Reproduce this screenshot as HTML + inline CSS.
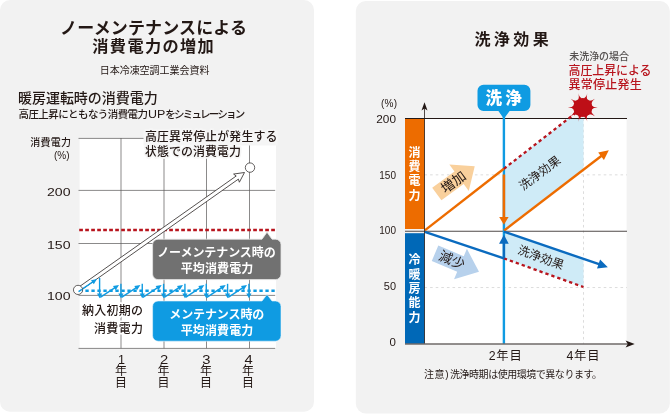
<!DOCTYPE html>
<html lang="ja"><head><meta charset="utf-8"><title>洗浄効果</title>
<style>
html,body{margin:0;padding:0;background:#fff;}
body{width:670px;height:414px;overflow:hidden;font-family:'Liberation Sans', 'Noto Sans CJK JP', sans-serif;}
svg{display:block;will-change:transform;}
svg text{font-family:'Liberation Sans', 'Noto Sans CJK JP', sans-serif;}
</style></head><body>
<svg width="670" height="414" viewBox="0 0 670 414">
<rect x="0" y="0" width="314" height="411.8" rx="10" fill="#f2f2f2"/>
<rect x="355.8" y="1.1" width="314" height="412.3" rx="10" fill="#f2f2f2"/>
<text x="60" y="34" font-size="17" font-weight="700" fill="#231815" text-anchor="start" textLength="187" lengthAdjust="spacing" >ノーメンテナンスによる</text>
<text x="92.3" y="52.3" font-size="16.2" font-weight="700" fill="#231815" text-anchor="start" textLength="121.5" lengthAdjust="spacing" >消費電力の増加</text>
<text x="99.7" y="73.7" font-size="10" font-weight="400" fill="#231815" text-anchor="start" textLength="109.8" lengthAdjust="spacing" >日本冷凍空調工業会資料</text>
<text x="18" y="103" font-size="14" font-weight="500" fill="#231815" text-anchor="start" textLength="139.7" lengthAdjust="spacing" >暖房運転時の消費電力</text>
<text x="18.5" y="117.8" font-size="10.5" font-weight="500" fill="#231815" text-anchor="start" textLength="129.5" lengthAdjust="spacing" >高圧上昇にともなう消費電力</text>
<text x="148" y="117.8" font-size="10.5" font-weight="400" fill="#231815" text-anchor="start" textLength="17.3" lengthAdjust="spacingAndGlyphs" >UP</text>
<text x="165.3" y="117.8" font-size="10.5" font-weight="500" fill="#231815" text-anchor="start" textLength="80" lengthAdjust="spacing" >をシミュレーション</text>
<text x="30.3" y="145.7" font-size="10" font-weight="500" fill="#231815" text-anchor="start" textLength="40.8" lengthAdjust="spacing" >消費電力</text>
<text x="69.5" y="158.5" font-size="10" font-weight="400" fill="#231815" text-anchor="end" >(%)</text>
<rect x="79.6" y="138.4" width="196.4" height="210" fill="#fff"/>
<line x1="121.00" y1="138.00" x2="121.00" y2="348.30" stroke="#595757" stroke-width="0.7" />
<line x1="164.00" y1="138.00" x2="164.00" y2="348.30" stroke="#595757" stroke-width="0.7" />
<line x1="206.50" y1="138.00" x2="206.50" y2="348.30" stroke="#595757" stroke-width="0.7" />
<line x1="249.50" y1="138.00" x2="249.50" y2="348.30" stroke="#595757" stroke-width="0.7" />
<line x1="78.50" y1="138.40" x2="275.20" y2="138.40" stroke="#595757" stroke-width="0.7" />
<line x1="78.50" y1="190.40" x2="275.20" y2="190.40" stroke="#595757" stroke-width="0.7" />
<line x1="78.50" y1="243.50" x2="275.20" y2="243.50" stroke="#595757" stroke-width="0.7" />
<line x1="78.50" y1="295.40" x2="275.20" y2="295.40" stroke="#595757" stroke-width="0.7" />
<line x1="78.50" y1="348.40" x2="275.20" y2="348.40" stroke="#595757" stroke-width="0.7" />
<text x="47" y="195.70000000000002" font-size="11" font-weight="400" fill="#231815" text-anchor="start" textLength="23.5" lengthAdjust="spacingAndGlyphs" >200</text>
<text x="47" y="248.5" font-size="11" font-weight="400" fill="#231815" text-anchor="start" textLength="23.5" lengthAdjust="spacingAndGlyphs" >150</text>
<text x="47" y="300.29999999999995" font-size="11" font-weight="400" fill="#231815" text-anchor="start" textLength="23.5" lengthAdjust="spacingAndGlyphs" >100</text>
<line x1="79.20" y1="230.00" x2="275.80" y2="230.00" stroke="#b8141d" stroke-width="2.7" stroke-dasharray="3.7 2.3"/>
<g transform="translate(78.06,289.9) rotate(-35.20)"><polygon points="3.00,-1.90 194.88,-1.90 193.88,-5.00 203.68,0.00 193.88,5.00 194.88,1.90 3.00,1.90" fill="#fff" stroke="#3e3a39" stroke-width="0.8" stroke-linejoin="miter"/></g>
<line x1="79.40" y1="290.70" x2="275.00" y2="290.70" stroke="#0f9be2" stroke-width="2.5" stroke-dasharray="3.3 2.7"/>
<line x1="78.50" y1="291.70" x2="94.52" y2="280.79" stroke="#0f9be2" stroke-width="1.4" />
<polygon points="97.00,279.10 93.78,284.32 90.96,280.19" fill="#0f9be2"/>
<line x1="99.60" y1="277.90" x2="99.60" y2="295.00" stroke="#0f9be2" stroke-width="1.4" />
<polygon points="99.60,298.30 97.00,293.50 102.20,293.50" fill="#0f9be2"/>
<line x1="100.20" y1="297.40" x2="116.52" y2="286.65" stroke="#0f9be2" stroke-width="1.4" />
<polygon points="119.03,285.00 115.73,290.17 112.98,285.99" fill="#0f9be2"/>
<line x1="120.93" y1="283.80" x2="120.93" y2="295.00" stroke="#0f9be2" stroke-width="1.4" />
<polygon points="120.93,298.30 118.33,293.50 123.53,293.50" fill="#0f9be2"/>
<line x1="121.53" y1="297.40" x2="137.85" y2="286.65" stroke="#0f9be2" stroke-width="1.4" />
<polygon points="140.36,285.00 137.06,290.17 134.31,285.99" fill="#0f9be2"/>
<line x1="142.26" y1="283.80" x2="142.26" y2="295.00" stroke="#0f9be2" stroke-width="1.4" />
<polygon points="142.26,298.30 139.66,293.50 144.86,293.50" fill="#0f9be2"/>
<line x1="142.86" y1="297.40" x2="159.18" y2="286.65" stroke="#0f9be2" stroke-width="1.4" />
<polygon points="161.69,285.00 158.39,290.17 155.64,285.99" fill="#0f9be2"/>
<line x1="163.59" y1="283.80" x2="163.59" y2="295.00" stroke="#0f9be2" stroke-width="1.4" />
<polygon points="163.59,298.30 160.99,293.50 166.19,293.50" fill="#0f9be2"/>
<line x1="164.19" y1="297.40" x2="180.51" y2="286.65" stroke="#0f9be2" stroke-width="1.4" />
<polygon points="183.02,285.00 179.72,290.17 176.97,285.99" fill="#0f9be2"/>
<line x1="184.92" y1="283.80" x2="184.92" y2="295.00" stroke="#0f9be2" stroke-width="1.4" />
<polygon points="184.92,298.30 182.32,293.50 187.52,293.50" fill="#0f9be2"/>
<line x1="185.52" y1="297.40" x2="201.84" y2="286.65" stroke="#0f9be2" stroke-width="1.4" />
<polygon points="204.35,285.00 201.05,290.17 198.30,285.99" fill="#0f9be2"/>
<line x1="206.25" y1="283.80" x2="206.25" y2="295.00" stroke="#0f9be2" stroke-width="1.4" />
<polygon points="206.25,298.30 203.65,293.50 208.85,293.50" fill="#0f9be2"/>
<line x1="206.85" y1="297.40" x2="223.17" y2="286.65" stroke="#0f9be2" stroke-width="1.4" />
<polygon points="225.68,285.00 222.38,290.17 219.63,285.99" fill="#0f9be2"/>
<line x1="227.58" y1="283.80" x2="227.58" y2="295.00" stroke="#0f9be2" stroke-width="1.4" />
<polygon points="227.58,298.30 224.98,293.50 230.18,293.50" fill="#0f9be2"/>
<line x1="228.18" y1="297.40" x2="244.50" y2="286.65" stroke="#0f9be2" stroke-width="1.4" />
<polygon points="247.01,285.00 243.71,290.17 240.96,285.99" fill="#0f9be2"/>
<line x1="248.91" y1="283.80" x2="248.91" y2="295.00" stroke="#0f9be2" stroke-width="1.4" />
<polygon points="248.91,298.30 246.31,293.50 251.51,293.50" fill="#0f9be2"/>
<circle cx="78.06" cy="289.9" r="4.6" fill="#fff" stroke="#3e3a39" stroke-width="0.8"/>
<line x1="78.50" y1="291.70" x2="82.00" y2="289.30" stroke="#0f9be2" stroke-width="1.4" />
<circle cx="250" cy="167.6" r="4.7" fill="#fff" stroke="#3e3a39" stroke-width="0.8"/>
<rect x="143.5" y="131.5" width="134" height="14" fill="#f5f5f5"/>
<text x="145" y="141.3" font-size="12" font-weight="500" fill="#231815" text-anchor="start" textLength="132.5" lengthAdjust="spacing" stroke="#f6f6f6" stroke-width="3.5" stroke-linejoin="round" paint-order="stroke">高圧異常停止が発生する</text>
<text x="145" y="155.6" font-size="12" font-weight="500" fill="#231815" text-anchor="start" textLength="96" lengthAdjust="spacing" stroke="#f6f6f6" stroke-width="3.5" stroke-linejoin="round" paint-order="stroke">状態での消費電力</text>
<text x="82" y="315.3" font-size="12" font-weight="500" fill="#231815" text-anchor="start" textLength="61" lengthAdjust="spacing" stroke="#fff" stroke-width="3.5" stroke-linejoin="round" paint-order="stroke">納入初期の</text>
<text x="94" y="333.3" font-size="12" font-weight="500" fill="#231815" text-anchor="start" textLength="49" lengthAdjust="spacing" stroke="#fff" stroke-width="3.5" stroke-linejoin="round" paint-order="stroke">消費電力</text>
<path d="M158.1,239.2 H262 L267,232.2 L272,239.2 H275.5 a5.5,5.5 0 0 1 5.5,5.5 V274.1 a5.5,5.5 0 0 1 -5.5,5.5 H158.1 a5.5,5.5 0 0 1 -5.5,-5.5 V244.7 a5.5,5.5 0 0 1 5.5,-5.5 Z" fill="#717171" stroke="#e6e6e6" stroke-width="0.8"/>
<text x="216.4" y="257.3" font-size="12" font-weight="700" fill="#fff" text-anchor="middle" textLength="118.5" lengthAdjust="spacing" >ノーメンテナンス時の</text>
<text x="217" y="273.2" font-size="12" font-weight="700" fill="#fff" text-anchor="middle" textLength="72.5" lengthAdjust="spacing" >平均消費電力</text>
<path d="M158.1,301.0 H262 L267,294.4 L272,301.0 H275.5 a5.5,5.5 0 0 1 5.5,5.5 V335.7 a5.5,5.5 0 0 1 -5.5,5.5 H158.1 a5.5,5.5 0 0 1 -5.5,-5.5 V306.5 a5.5,5.5 0 0 1 5.5,-5.5 Z" fill="#0f9be2" stroke="#eaf5fc" stroke-width="0.6"/>
<text x="216.8" y="318.5" font-size="12" font-weight="700" fill="#fff" text-anchor="middle" textLength="95" lengthAdjust="spacing" >メンテナンス時の</text>
<text x="217" y="334.8" font-size="12" font-weight="700" fill="#fff" text-anchor="middle" textLength="72.5" lengthAdjust="spacing" >平均消費電力</text>
<text x="121.4" y="363.8" font-size="12.5" font-weight="400" fill="#231815" text-anchor="middle" >1</text>
<text x="120.9" y="374.8" font-size="12" font-weight="400" fill="#231815" text-anchor="middle" >年</text>
<text x="120.9" y="386.9" font-size="12" font-weight="400" fill="#231815" text-anchor="middle" >目</text>
<text x="164.1" y="363.8" font-size="12.5" font-weight="400" fill="#231815" text-anchor="middle" textLength="8.2" lengthAdjust="spacingAndGlyphs" >2</text>
<text x="163.6" y="374.8" font-size="12" font-weight="400" fill="#231815" text-anchor="middle" >年</text>
<text x="163.6" y="386.9" font-size="12" font-weight="400" fill="#231815" text-anchor="middle" >目</text>
<text x="206.4" y="363.8" font-size="12.5" font-weight="400" fill="#231815" text-anchor="middle" textLength="8.2" lengthAdjust="spacingAndGlyphs" >3</text>
<text x="205.9" y="374.8" font-size="12" font-weight="400" fill="#231815" text-anchor="middle" >年</text>
<text x="205.9" y="386.9" font-size="12" font-weight="400" fill="#231815" text-anchor="middle" >目</text>
<text x="248.6" y="363.8" font-size="12.5" font-weight="400" fill="#231815" text-anchor="middle" textLength="8.2" lengthAdjust="spacingAndGlyphs" >4</text>
<text x="248.1" y="374.8" font-size="12" font-weight="400" fill="#231815" text-anchor="middle" >年</text>
<text x="248.1" y="386.9" font-size="12" font-weight="400" fill="#231815" text-anchor="middle" >目</text>
<text x="474.4" y="44.6" font-size="16" font-weight="700" fill="#231815" text-anchor="start" textLength="74.3" lengthAdjust="spacing" >洗浄効果</text>
<text x="569.3" y="60" font-size="10" font-weight="500" fill="#555150" text-anchor="start" textLength="59.6" lengthAdjust="spacing" >未洗浄の場合</text>
<text x="568.5" y="75.3" font-size="12" font-weight="500" fill="#b8141d" text-anchor="start" textLength="83" lengthAdjust="spacing" >高圧上昇による</text>
<text x="568.5" y="88.9" font-size="12" font-weight="500" fill="#b8141d" text-anchor="start" textLength="73.3" lengthAdjust="spacing" >異常停止発生</text>
<rect x="424" y="118.5" width="202.6" height="225.5" fill="#fff"/>
<line x1="424.50" y1="174.85" x2="627.00" y2="174.85" stroke="#dcdcdc" stroke-width="1" stroke-dasharray="2.6 3"/>
<line x1="424.50" y1="287.55" x2="627.00" y2="287.55" stroke="#dcdcdc" stroke-width="1" stroke-dasharray="2.6 3"/>
<line x1="583.50" y1="118.50" x2="583.50" y2="344.00" stroke="#dcdcdc" stroke-width="1" stroke-dasharray="2.6 3"/>
<polygon points="503.9,168.8 568.6,118.5 583.5,118.5 583.5,169.8 503.9,231.2" fill="#cfebf7"/>
<polygon points="503.9,231.2 583.5,258.8 583.5,287.0 503.9,258.4" fill="#cfebf7"/>
<rect x="405" y="118.5" width="19.5" height="110.5" fill="#ed6c00"/>
<rect x="405" y="233.2" width="19.5" height="110.80000000000001" fill="#0068b7"/>
<polygon transform="translate(436.8,194) rotate(-36.2)" points="0,-7.8 27.6,-7.8 27.6,-16.4 47,0 27.6,16.4 27.6,7.8 0,7.8" fill="#f9d09c"/>
<polygon transform="translate(435.05,253.25) rotate(22.9)" points="0,-8.4 27.6,-8.4 27.6,-16.5 47.7,0 27.6,16.5 27.6,8.4 0,8.4" fill="#b7d1ec"/>
<text transform="translate(453.3,182) rotate(-36.2)" x="0" y="4.9" font-size="13.5" text-anchor="middle" fill="#231815">増加</text>
<text transform="translate(452,259.9) rotate(22.9)" x="0" y="4.9" font-size="13.5" text-anchor="middle" fill="#231815">減少</text>
<line x1="405.00" y1="118.50" x2="627.00" y2="118.50" stroke="#231815" stroke-width="1" />
<line x1="405.00" y1="231.20" x2="627.00" y2="231.20" stroke="#4f4a49" stroke-width="1.1" />
<line x1="503.90" y1="116.50" x2="503.90" y2="344.00" stroke="#0f9be2" stroke-width="2.4" />
<line x1="424.80" y1="230.40" x2="503.90" y2="168.80" stroke="#ed6c00" stroke-width="2.4" />
<line x1="503.90" y1="168.80" x2="582.80" y2="107.50" stroke="#b8141d" stroke-width="2.3" stroke-dasharray="3.3 3.0"/>
<line x1="503.90" y1="230.70" x2="603.26" y2="154.57" stroke="#ed6c00" stroke-width="2.4" />
<polygon points="608.80,150.30 603.91,160.01 598.17,152.56" fill="#ed6c00"/>
<line x1="503.90" y1="174.55" x2="503.90" y2="218.00" stroke="#ed6c00" stroke-width="2.6" />
<polygon points="503.90,224.80 499.20,217.00 508.60,217.00" fill="#ed6c00"/>
<line x1="424.80" y1="231.80" x2="503.90" y2="258.40" stroke="#0b6bbf" stroke-width="2.4" />
<line x1="503.90" y1="258.40" x2="583.50" y2="287.00" stroke="#b8141d" stroke-width="2.3" stroke-dasharray="3.3 3.0"/>
<line x1="503.90" y1="231.70" x2="601.19" y2="264.91" stroke="#0b6bbf" stroke-width="2.4" />
<polygon points="607.80,267.20 597.00,268.43 600.08,259.55" fill="#0b6bbf"/>
<line x1="503.90" y1="242.00" x2="503.90" y2="258.40" stroke="#0b6bbf" stroke-width="2.4" />
<polygon points="503.90,234.70 508.75,243.80 499.05,243.80" fill="#0b6bbf"/>
<line x1="424.50" y1="108.00" x2="424.50" y2="344.00" stroke="#231815" stroke-width="1" stroke-opacity="0.78"/>
<polygon points="424.5,102.3 427.5,110.6 424.5,108.4 421.5,110.6" fill="#231815"/>
<line x1="405.00" y1="344.00" x2="628.00" y2="344.00" stroke="#6f6a69" stroke-width="1.5" />
<polygon points="634.7,344.0 625.6,340.6 627.8,344.0 625.6,347.4" fill="#231815"/>
<circle cx="582.8" cy="107.5" r="9.6" fill="#be0f17"/>
<path d="M591.53,105.32 Q593.30,107.50 597.70,107.50 Q593.30,107.50 591.53,109.68 Z M591.14,110.87 Q591.29,113.67 594.85,116.26 Q591.29,113.67 588.59,114.39 Z M587.57,115.13 Q586.04,117.49 587.40,121.67 Q586.04,117.49 583.43,116.48 Z M582.17,116.48 Q579.56,117.49 578.20,121.67 Q579.56,117.49 578.03,115.13 Z M577.01,114.39 Q574.31,113.67 570.75,116.26 Q574.31,113.67 574.46,110.87 Z M574.07,109.68 Q572.30,107.50 567.90,107.50 Q572.30,107.50 574.07,105.32 Z M574.46,104.13 Q574.31,101.33 570.75,98.74 Q574.31,101.33 577.01,100.61 Z M578.03,99.87 Q579.56,97.51 578.20,93.33 Q579.56,97.51 582.17,98.52 Z M583.43,98.52 Q586.04,97.51 587.40,93.33 Q586.04,97.51 587.57,99.87 Z M588.59,100.61 Q591.29,101.33 594.85,98.74 Q591.29,101.33 591.14,104.13 Z" fill="#be0f17"/>
<text transform="translate(539.7,172.9) rotate(-37)" x="0" y="4.4" font-size="12" text-anchor="middle" fill="#231815">洗浄効果</text>
<text transform="translate(541,257.3) rotate(20)" x="0" y="4.4" font-size="12" text-anchor="middle" fill="#231815">洗浄効果</text>
<path d="M483.5,84.7 H524.4 a6,6 0 0 1 6,6 V105 a6,6 0 0 1 -6,6 H509.6 L504.79999999999995,117.6 H503.0 L498.4,111 H483.5 a6,6 0 0 1 -6,-6 V90.7 a6,6 0 0 1 6,-6 Z" fill="#0f9be2"/>
<text x="485.5" y="103.6" font-size="16.5" font-weight="900" fill="#fff" text-anchor="start" textLength="36.2" lengthAdjust="spacing" >洗浄</text>
<text x="381" y="106.6" font-size="10" font-weight="400" fill="#231815" text-anchor="start" textLength="16" lengthAdjust="spacing" >(%)</text>
<text x="396" y="122.7" font-size="10.5" font-weight="400" fill="#231815" text-anchor="end" textLength="19.7" lengthAdjust="spacingAndGlyphs" >200</text>
<text x="396" y="178.70000000000002" font-size="10.5" font-weight="400" fill="#231815" text-anchor="end" textLength="16.7" lengthAdjust="spacingAndGlyphs" >150</text>
<text x="396" y="234.0" font-size="10.5" font-weight="400" fill="#231815" text-anchor="end" textLength="16.7" lengthAdjust="spacingAndGlyphs" >100</text>
<text x="396" y="290.0" font-size="10.5" font-weight="400" fill="#231815" text-anchor="end" textLength="12.2" lengthAdjust="spacingAndGlyphs" >50</text>
<text x="396" y="345.8" font-size="10.5" font-weight="400" fill="#231815" text-anchor="end" textLength="6.4" lengthAdjust="spacingAndGlyphs" >0</text>
<text x="414.6" y="156.70000000000002" font-size="12" font-weight="700" fill="#fff" text-anchor="middle" >消</text>
<text x="414.6" y="171.0" font-size="12" font-weight="700" fill="#fff" text-anchor="middle" >費</text>
<text x="414.6" y="185.3" font-size="12" font-weight="700" fill="#fff" text-anchor="middle" >電</text>
<text x="414.6" y="199.6" font-size="12" font-weight="700" fill="#fff" text-anchor="middle" >力</text>
<text x="414.6" y="264.09999999999997" font-size="12" font-weight="700" fill="#fff" text-anchor="middle" >冷</text>
<text x="414.6" y="278.79999999999995" font-size="12" font-weight="700" fill="#fff" text-anchor="middle" >暖</text>
<text x="414.6" y="293.29999999999995" font-size="12" font-weight="700" fill="#fff" text-anchor="middle" >房</text>
<text x="414.6" y="307.4" font-size="12" font-weight="700" fill="#fff" text-anchor="middle" >能</text>
<text x="414.6" y="321.79999999999995" font-size="12" font-weight="700" fill="#fff" text-anchor="middle" >力</text>
<text x="505.2" y="359.6" font-size="12.3" font-weight="400" fill="#231815" text-anchor="middle" textLength="33" lengthAdjust="spacing" >2年目</text>
<text x="583" y="359.6" font-size="12.3" font-weight="400" fill="#231815" text-anchor="middle" textLength="33" lengthAdjust="spacing" >4年目</text>
<text x="424" y="377.7" font-size="10" font-weight="400" fill="#231815" text-anchor="start" textLength="24.5" lengthAdjust="spacing" >注意)</text>
<text x="450" y="377.7" font-size="10" font-weight="400" fill="#231815" text-anchor="start" textLength="152" lengthAdjust="spacing" >洗浄時期は使用環境で異なります。</text>
</svg>
</body></html>
